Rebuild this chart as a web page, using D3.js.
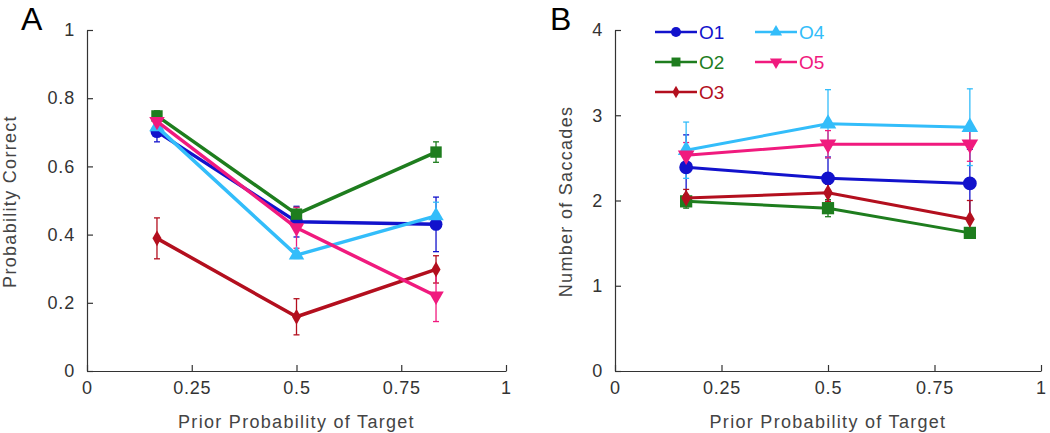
<!DOCTYPE html>
<html><head><meta charset="utf-8">
<script src="https://cdn.jsdelivr.net/npm/d3@7"></script>
<style>
html,body{margin:0;padding:0;background:#fff;}
svg{display:block;font-family:"Liberation Sans",Arial,sans-serif;}
</style></head>
<body>
<svg id="c" width="1050" height="433"></svg>
<script>
const xVals = [0.167, 0.5, 0.833];
const series = ["O1","O2","O3","O4","O5"];
const colors = ["#1212cc","#1e7d1e","#b30f1e","#33bdfa","#f01a7e"];
const shapes = ["circle","square","diamond","triUp","triDown"];

const accA = [[0.702,0.438,0.430],[0.748,0.460,0.642],[0.389,0.159,0.298],[0.716,0.340,0.455],[0.732,0.420,0.220]];
const accErr = [[0.03,0.045,0.08],[0.015,0.02,0.03],[0.06,0.053,0.04],[0.015,0.01,0.04],[0.02,0.06,0.075]];
const sacB = [[2.39,2.26,2.20],[1.99,1.91,1.62],[2.03,2.09,1.78],[2.59,2.90,2.86],[2.53,2.66,2.66]];
const sacErr = [[0.38,0.25,0.40],[0.08,0.10,0.05],[0.10,0.10,0.22],[0.33,0.40,0.45],[0.15,0.16,0.20]];

const xTicks = [0,0.25,0.5,0.75,1];
const xTickLabels = ["0","0.25","0.5","0.75","1"];
const yTicksA = [0,0.2,0.4,0.6,0.8,1];
const yTickLabelsA = ["0","0.2","0.4","0.6","0.8","1"];
const yTicksB = [0,1,2,3,4];
const yTickLabelsB = ["0","1","2","3","4"];

const svg = d3.select("#c");
const axisColor = "#333";

function symbolPath(shape, s){
  const m = {circle:d3.symbolCircle, square:d3.symbolSquare, diamond:d3.symbolDiamond, triUp:d3.symbolTriangle, triDown:d3.symbolTriangle};
  return d3.symbol().type(m[shape]).size(s)();
}
const sizeMul = {circle:1.0, square:1.0, diamond:0.55, triUp:0.8, triDown:0.8};

function panel(opt){
  const g = svg.append("g");
  const x = d3.scaleLinear().domain([0,1]).range([opt.x0, opt.x1]);
  const y = d3.scaleLinear().domain(opt.ydom).range([opt.y0, opt.y1]);

  const xa = g.append("g").attr("transform",`translate(0,${opt.y0})`)
    .call(d3.axisBottom(x).tickValues(xTicks).tickFormat((d,i)=>xTickLabels[i]).tickSize(-6).tickPadding(10).tickSizeOuter(0));
  const ya = g.append("g").attr("transform",`translate(${opt.x0},0)`)
    .call(d3.axisLeft(y).tickValues(opt.yTicks).tickFormat((d,i)=>opt.yLabels[i]).tickSize(-6).tickPadding(12).tickSizeOuter(0));
  [xa,ya].forEach(a=>{
    a.selectAll("path,line").attr("stroke",axisColor).attr("stroke-width",1.2);
    a.selectAll("text").attr("fill","#333").attr("font-size",18).style("letter-spacing","0.8px");
  });

  g.append("text").attr("x",(opt.x0+opt.x1)/2).attr("y",428).attr("text-anchor","middle")
    .attr("font-size",18).attr("fill","#444").style("letter-spacing","1.3px").text("Prior Probability of Target");
  g.append("text").attr("transform",`translate(${opt.ylabX},${(opt.y0+opt.y1)/2+1}) rotate(-90)`)
    .attr("text-anchor","middle").attr("font-size",18).attr("fill","#444").style("letter-spacing","1.3px").text(opt.ylab);
  g.append("text").attr("x",opt.letterX).attr("y",30).attr("font-size",32).attr("fill","#000").text(opt.letter);

  const line = d3.line().x((d,i)=>x(xVals[i])).y(d=>y(d));
  opt.data.forEach((vals,si)=>{
    const c = colors[si];
    vals.forEach((v,i)=>{
      const e = opt.err[si][i];
      const cx = x(xVals[i]);
      g.append("line").attr("x1",cx).attr("x2",cx).attr("y1",y(v-e)).attr("y2",y(v+e)).attr("stroke",c).attr("stroke-width",1.3);
      [v-e,v+e].forEach(t=>g.append("line").attr("x1",cx-3).attr("x2",cx+3).attr("y1",y(t)).attr("y2",y(t)).attr("stroke",c).attr("stroke-width",1.3));
    });
  });
  opt.data.forEach((vals,si)=>{
    const c = colors[si];
    g.append("path").datum(vals).attr("d",line).attr("fill","none").attr("stroke",c).attr("stroke-width",opt.lw).attr("stroke-linejoin","round");
    vals.forEach((v,i)=>{
      const sh = shapes[si];
      g.append("path").attr("d",symbolPath(sh,opt.ms*sizeMul[sh]))
        .attr("transform",`translate(${x(xVals[i])},${y(v)})${sh==="triDown"?" rotate(180)":""}`)
        .attr("fill",c);
    });
  });
  return {g,x,y};
}

panel({x0:87,x1:506,y0:371,y1:30,ydom:[0,1],yTicks:yTicksA,yLabels:yTickLabelsA,
  ylab:"Probability Correct",ylabX:16,letter:"A",letterX:21,data:accA,err:accErr,lw:3.5,ms:130});
panel({x0:615,x1:1041,y0:371,y1:30,ydom:[0,4],yTicks:yTicksB,yLabels:yTickLabelsB,
  ylab:"Number of Saccades",ylabX:572,letter:"B",letterX:550,data:sacB,err:sacErr,lw:3,ms:150});

const legPos = [[655,32],[655,62],[655,92],[755,32],[755,62]];
const lg = svg.append("g");
series.forEach((s,i)=>{
  const [lx,ly] = legPos[i];
  lg.append("line").attr("x1",lx).attr("x2",lx+42).attr("y1",ly).attr("y2",ly).attr("stroke",colors[i]).attr("stroke-width",2.5);
  const sh = shapes[i];
  lg.append("path").attr("d",symbolPath(sh,80*sizeMul[sh]))
    .attr("transform",`translate(${lx+21},${ly})${sh==="triDown"?" rotate(180)":""}`).attr("fill",colors[i]);
  lg.append("text").attr("x",lx+44).attr("y",ly+7).attr("font-size",19).attr("fill",colors[i]).text(s);
});
</script>
</body></html>
